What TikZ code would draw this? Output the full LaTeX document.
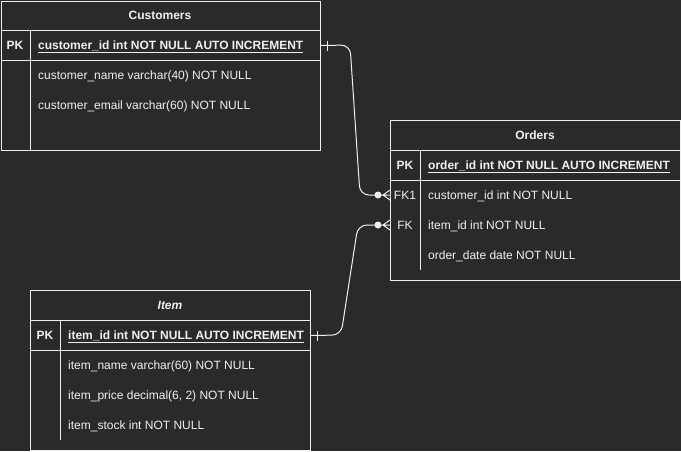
\documentclass[tikz,border=0pt]{standalone}
\usepackage{fontspec}
\setmainfont{Liberation Sans}
\definecolor{bg}{HTML}{2A2A2A}
\definecolor{fg}{HTML}{F0F0F0}
\tikzset{
  box/.style={draw=fg, line width=1pt, inner sep=0pt, anchor=north west, fill=none},
  txt/.style={text=fg, inner sep=0pt, anchor=base, font=\fontsize{12}{14}\selectfont},
  fld/.style={txt, anchor=base west},
  key/.style={txt, font=\fontsize{12}{14}\selectfont\bfseries},
  ttl/.style={txt, font=\fontsize{12}{14}\selectfont\bfseries},
  conn/.style={draw=fg, line width=1pt, rounded corners=9pt},
  ln/.style={draw=fg, line width=1pt}
}
\newcommand{\pkf}[1]{\textbf{\underline{#1}}}
\begin{document}
\begin{tikzpicture}[x=1pt,y=-1pt]
\fill[bg] (0,0) rectangle (681,451);
\useasboundingbox (0,0) rectangle (681,451);
% Customers
\node[box, minimum width=319.5pt, minimum height=29.5pt] (chead) at (0.5,0.5) {};
\node[box, minimum width=319.5pt, minimum height=30pt] (cpk) at (0.5,30) {};
\node[box, minimum width=319.5pt, minimum height=90pt] (cbody) at (0.5,60) {};
\draw[ln] (30,30) -- (30,150);
\node[ttl] (ctitle) at (160,19.3) {Customers};
\node[key] (cpkl) at (15,49.3) {PK};
\node[fld] (cf1) at (38,49.3) {\pkf{customer\_id int NOT NULL AUTO INCREMENT}};
\node[fld] (cf2) at (38,79.3) {customer\_name varchar(40) NOT NULL};
\node[fld] (cf3) at (38,109.3) {customer\_email varchar(60) NOT NULL};
% Orders
\node[box, minimum width=290pt, minimum height=30pt] (ohead) at (390,120) {};
\node[box, minimum width=290pt, minimum height=30pt] (opk) at (390,150) {};
\node[box, minimum width=290pt, minimum height=100pt] (obody) at (390,180) {};
\draw[ln] (420,150) -- (420,270);
\node[ttl] (otitle) at (535,139.3) {Orders};
\node[key] (opkl) at (405,169.3) {PK};
\node[fld] (of1) at (428,169.3) {\pkf{order\_id int NOT NULL AUTO INCREMENT}};
\node[txt] (ofk1l) at (405,199.3) {FK1};
\node[fld] (of2) at (428,199.3) {customer\_id int NOT NULL};
\node[txt] (ofkl) at (405,229.3) {FK};
\node[fld] (of3) at (428,229.3) {item\_id int NOT NULL};
\node[fld] (of4) at (428,259.3) {order\_date date NOT NULL};
% Item
\node[box, minimum width=280pt, minimum height=30pt] (ihead) at (30,290) {};
\node[box, minimum width=280pt, minimum height=30pt] (ipk) at (30,320) {};
\node[box, minimum width=280pt, minimum height=100pt] (ibody) at (30,350) {};
\draw[ln] (60,320) -- (60,440);
\node[ttl] (ititle) at (170,309.3) {\textit{Item}};
\node[key] (ipkl) at (45,339.3) {PK};
\node[fld] (if1) at (68,339.3) {\pkf{item\_id int NOT NULL AUTO INCREMENT}};
\node[fld] (if2) at (68,369.3) {item\_name varchar(60) NOT NULL};
\node[fld] (if3) at (68,399.3) {item\_price decimal(6, 2) NOT NULL};
\node[fld] (if4) at (68,429.3) {item\_stock int NOT NULL};
% connector ends
\coordinate (ofk1) at (390,195);
\coordinate (ofk) at (390,225);
\coordinate (cA) at (350,45);
\coordinate (cB) at (360,195);
\coordinate (iA) at (341,335);
\coordinate (iB) at (358,225);
% Customers -> Orders
\draw[conn] (cpk.east) -- (cA) -- (cB) -- ([xshift=-7pt]ofk1);
\draw[ln] ([xshift=6pt]cpk.east) ++(0,-5) -- ++(0,10);
\fill[fg] ([xshift=-12pt]ofk1) circle (3.5pt);
\draw[ln] ([xshift=-7pt]ofk1) -- ([yshift=-5pt]ofk1)
            ([xshift=-7pt]ofk1) -- (ofk1)
            ([xshift=-7pt]ofk1) -- ([yshift=5pt]ofk1);
% Item -> Orders
\draw[conn] (ipk.east) -- (iA) -- (iB) -- ([xshift=-7pt]ofk);
\draw[ln] ([xshift=6pt]ipk.east) ++(0,-5) -- ++(0,10);
\fill[fg] ([xshift=-12pt]ofk) circle (3.5pt);
\draw[ln] ([xshift=-7pt]ofk) -- ([yshift=-5pt]ofk)
            ([xshift=-7pt]ofk) -- (ofk)
            ([xshift=-7pt]ofk) -- ([yshift=5pt]ofk);
\end{tikzpicture}
\end{document}
